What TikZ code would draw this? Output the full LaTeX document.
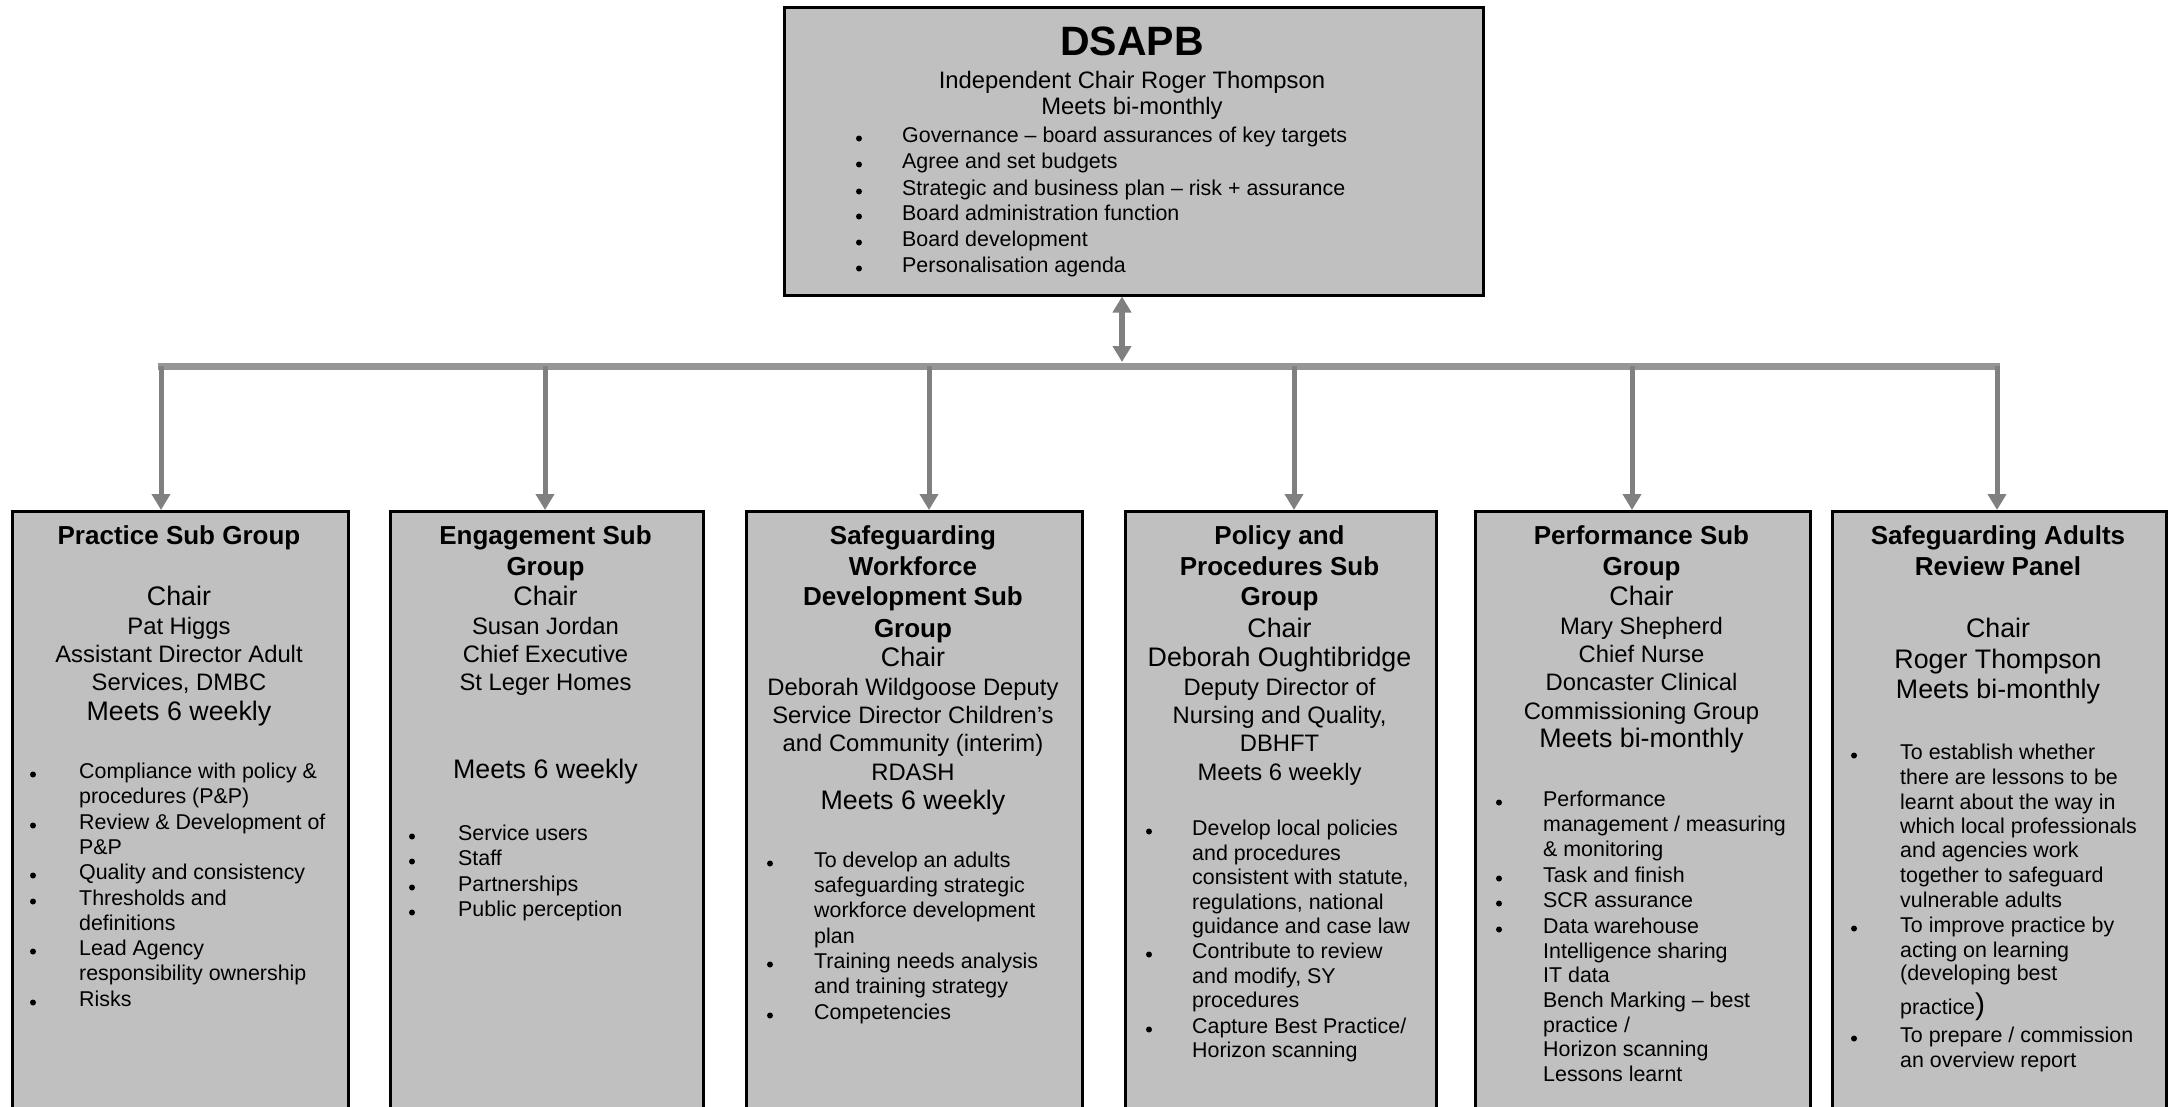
\documentclass[tikz,border=0pt]{standalone}
\usepackage{fontspec}
\setmainfont{Liberation Sans}
\usetikzlibrary{arrows.meta}
\definecolor{boxgray}{RGB}{192,192,192}
\definecolor{bargray}{RGB}{150,150,150}
\definecolor{arrgray}{RGB}{128,128,128}
\tikzset{
  boxs/.style={draw=black, line width=2.5pt, fill=boxgray, inner sep=0pt, anchor=north west},
  bigttl/.style={font=\fontsize{41}{48}\selectfont\bfseries, anchor=mid, inner sep=0pt, yshift=-12pt},
  ttl/.style={font=\fontsize{26}{30}\selectfont\bfseries, anchor=mid, inner sep=0pt, yshift=-5.5pt},
  nm/.style={font=\fontsize{23.8}{28}\selectfont, anchor=mid, inner sep=0pt, yshift=-5.5pt},
  mt/.style={font=\fontsize{26.8}{30}\selectfont, anchor=mid, inner sep=0pt, yshift=-5.5pt},
  bl/.style={font=\fontsize{21.4}{25}\selectfont, anchor=mid west, inner sep=0pt, yshift=-5.5pt},
  dot/.style={circle, fill=black, draw=none, inner sep=0pt, minimum size=6pt, yshift=-4.5pt},
  barline/.style={draw=bargray, line width=7pt},
  downarr/.style={draw=arrgray, line width=5pt, -{Triangle[width=18pt,length=16pt]}},
  dblarr/.style={draw=arrgray, line width=6pt, {Triangle[width=18pt,length=16pt]}-{Triangle[width=18pt,length=16pt]}, shorten <=1pt},
}
\begin{document}
\begin{tikzpicture}[x=1pt,y=-1pt]
\useasboundingbox (0,0) rectangle (2168,1106);
\clip (0,0) rectangle (2168,1106);

% boxes
\node[boxs, minimum width=699pt, minimum height=288pt] (top) at (783,6) {};
\node[boxs, minimum width=336pt, minimum height=640pt] (b1) at (11,510) {};
\node[boxs, minimum width=313pt, minimum height=640pt] (b2) at (389,510) {};
\node[boxs, minimum width=336pt, minimum height=640pt] (b3) at (745,510) {};
\node[boxs, minimum width=311pt, minimum height=640pt] (b4) at (1124,510) {};
\node[boxs, minimum width=335pt, minimum height=640pt] (b5) at (1474,510) {};
\node[boxs, minimum width=334pt, minimum height=640pt] (b6) at (1831,510) {};

% connectors
\coordinate (bl0) at (158,366.5);
\coordinate (br0) at (2000,366.5);
\draw[barline] (bl0) -- (br0);
\coordinate (j1) at (161,366);
\coordinate (j2) at (545,366);
\coordinate (j3) at (929,366);
\coordinate (j4) at (1294,366);
\coordinate (j5) at (1632,366);
\coordinate (j6) at (1997,366);
\draw[downarr] (j1) -- (j1 |- b1.north);
\draw[downarr] (j2) -- (j2 |- b2.north);
\draw[downarr] (j3) -- (j3 |- b3.north);
\draw[downarr] (j4) -- (j4 |- b4.north);
\draw[downarr] (j5) -- (j5 |- b5.north);
\draw[downarr] (j6) -- (j6 |- b6.north);
\coordinate (jc) at (1122,363);
\draw[dblarr] (jc) -- (jc |- top.south);

% DSAPB
\node[bigttl] (t0) at (1132,41) {DSAPB};
\node[nm] (t01) at (1132,80) {Independent Chair Roger Thompson};
\node[nm] (t02) at (1132,106) {Meets bi-monthly};
\node[dot] (d01) at (859,134) {}; \node[bl] (l01) at (902,134) {Governance -- board assurances of key targets};
\node[dot] (d02) at (859,160) {}; \node[bl] (l02) at (902,160) {Agree and set budgets};
\node[dot] (d03) at (859,187) {}; \node[bl] (l03) at (902,187) {Strategic and business plan -- risk + assurance};
\node[dot] (d04) at (859,212) {}; \node[bl] (l04) at (902,212) {Board administration function};
\node[dot] (d05) at (859,238) {}; \node[bl] (l05) at (902,238) {Board development};
\node[dot] (d06) at (859,264) {}; \node[bl] (l06) at (902,264) {Personalisation agenda};

% Box 1
\node[ttl] (t11) at (179,536) {Practice Sub Group};
\node[mt] (t12) at (179,597) {Chair};
\node[nm] (t13) at (179,626) {Pat Higgs};
\node[nm] (t14) at (179,654) {Assistant Director Adult};
\node[nm] (t15) at (179,682) {Services, DMBC};
\node[mt] (t16) at (179,712) {Meets 6 weekly};
\node[dot] (d11) at (33,770) {}; \node[bl] (l11) at (79,770) {Compliance with policy \&};
\node[bl] (l12) at (79,795) {procedures (P\&P)};
\node[dot] (d13) at (33,821) {}; \node[bl] (l13) at (79,821) {Review \& Development of};
\node[bl] (l14) at (79,846) {P\&P};
\node[dot] (d15) at (33,871) {}; \node[bl] (l15) at (79,871) {Quality and consistency};
\node[dot] (d16) at (33,897) {}; \node[bl] (l16) at (79,897) {Thresholds and};
\node[bl] (l17) at (79,922) {definitions};
\node[dot] (d18) at (33,947) {}; \node[bl] (l18) at (79,947) {Lead Agency};
\node[bl] (l19) at (79,972) {responsibility ownership};
\node[dot] (d110) at (33,998) {}; \node[bl] (l110) at (79,998) {Risks};

% Box 2
\node[ttl] (t21) at (545.5,536) {Engagement Sub};
\node[ttl] (t22) at (545.5,567) {Group};
\node[mt] (t23) at (545.5,597) {Chair};
\node[nm] (t24) at (545.5,626) {Susan Jordan};
\node[nm] (t25) at (545.5,654) {Chief Executive};
\node[nm] (t26) at (545.5,682) {St Leger Homes};
\node[mt] (t27) at (545.5,770) {Meets 6 weekly};
\node[dot] (d21) at (412,832) {}; \node[bl] (l21) at (458,832) {Service users};
\node[dot] (d22) at (412,857) {}; \node[bl] (l22) at (458,857) {Staff};
\node[dot] (d23) at (412,883) {}; \node[bl] (l23) at (458,883) {Partnerships};
\node[dot] (d24) at (412,908) {}; \node[bl] (l24) at (458,908) {Public perception};

% Box 3
\node[ttl] (t31) at (913,536) {Safeguarding};
\node[ttl] (t32) at (913,567) {Workforce};
\node[ttl] (t33) at (913,597) {Development Sub};
\node[ttl] (t34) at (913,629) {Group};
\node[mt] (t35) at (913,658) {Chair};
\node[nm] (t36) at (913,687) {Deborah Wildgoose Deputy};
\node[nm] (t37) at (913,715) {Service Director Children’s};
\node[nm] (t38) at (913,743) {and Community (interim)};
\node[nm] (t39) at (913,772) {RDASH};
\node[mt] (t310) at (913,801) {Meets 6 weekly};
\node[dot] (d31) at (770,859) {}; \node[bl] (l31) at (814,859) {To develop an adults};
\node[bl] (l32) at (814,884) {safeguarding strategic};
\node[bl] (l33) at (814,909) {workforce development};
\node[bl] (l34) at (814,935) {plan};
\node[dot] (d35) at (770,960) {}; \node[bl] (l35) at (814,960) {Training needs analysis};
\node[bl] (l36) at (814,985) {and training strategy};
\node[dot] (d37) at (770,1011) {}; \node[bl] (l37) at (814,1011) {Competencies};

% Box 4
\node[ttl] (t41) at (1279.5,536) {Policy and};
\node[ttl] (t42) at (1279.5,567) {Procedures Sub};
\node[ttl] (t43) at (1279.5,597) {Group};
\node[mt] (t44) at (1279.5,629) {Chair};
\node[mt] (t45) at (1279.5,658) {Deborah Oughtibridge};
\node[nm] (t46) at (1279.5,687) {Deputy Director of};
\node[nm] (t47) at (1279.5,715) {Nursing and Quality,};
\node[nm] (t48) at (1279.5,743) {DBHFT};
\node[nm] (t49) at (1279.5,772) {Meets 6 weekly};
\node[dot] (d41) at (1149,827) {}; \node[bl] (l41) at (1192,827) {Develop local policies};
\node[bl] (l42) at (1192,852) {and procedures};
\node[bl] (l43) at (1192,876) {consistent with statute,};
\node[bl] (l44) at (1192,901) {regulations, national};
\node[bl] (l45) at (1192,925) {guidance and case law};
\node[dot] (d46) at (1149,950) {}; \node[bl] (l46) at (1192,950) {Contribute to review};
\node[bl] (l47) at (1192,975) {and modify, SY};
\node[bl] (l48) at (1192,999) {procedures};
\node[dot] (d49) at (1149,1025) {}; \node[bl] (l49) at (1192,1025) {Capture Best Practice/};
\node[bl] (l410) at (1192,1049) {Horizon scanning};

% Box 5
\node[ttl] (t51) at (1641.5,536) {Performance Sub};
\node[ttl] (t52) at (1641.5,567) {Group};
\node[mt] (t53) at (1641.5,597) {Chair};
\node[nm] (t54) at (1641.5,626) {Mary Shepherd};
\node[nm] (t55) at (1641.5,654) {Chief Nurse};
\node[nm] (t56) at (1641.5,682) {Doncaster Clinical};
\node[nm] (t57) at (1641.5,711) {Commissioning Group};
\node[mt] (t58) at (1641.5,739) {Meets bi-monthly};
\node[dot] (d51) at (1499,798) {}; \node[bl] (l51) at (1543,798) {Performance};
\node[bl] (l52) at (1543,823) {management / measuring};
\node[bl] (l53) at (1543,848) {\& monitoring};
\node[dot] (d54) at (1499,874) {}; \node[bl] (l54) at (1543,874) {Task and finish};
\node[dot] (d55) at (1499,899) {}; \node[bl] (l55) at (1543,899) {SCR assurance};
\node[dot] (d56) at (1499,925) {}; \node[bl] (l56) at (1543,925) {Data warehouse};
\node[bl] (l57) at (1543,950) {Intelligence sharing};
\node[bl] (l58) at (1543,974) {IT data};
\node[bl] (l59) at (1543,999) {Bench Marking -- best};
\node[bl] (l510) at (1543,1024) {practice /};
\node[bl] (l511) at (1543,1048) {Horizon scanning};
\node[bl] (l512) at (1543,1073) {Lessons learnt};

% Box 6
\node[ttl] (t61) at (1998,536) {Safeguarding Adults};
\node[ttl] (t62) at (1998,567) {Review Panel};
\node[mt] (t63) at (1998,629) {Chair};
\node[mt] (t64) at (1998,660) {Roger Thompson};
\node[mt] (t65) at (1998,690) {Meets bi-monthly};
\node[dot] (d61) at (1854,751) {}; \node[bl] (l61) at (1900,751) {To establish whether};
\node[bl] (l62) at (1900,776) {there are lessons to be};
\node[bl] (l63) at (1900,801) {learnt about the way in};
\node[bl] (l64) at (1900,825) {which local professionals};
\node[bl] (l65) at (1900,849) {and agencies work};
\node[bl] (l66) at (1900,874) {together to safeguard};
\node[bl] (l67) at (1900,899) {vulnerable adults};
\node[dot] (d68) at (1854,924) {}; \node[bl] (l68) at (1900,924) {To improve practice by};
\node[bl] (l69) at (1900,949) {acting on learning};
\node[bl] (l610) at (1900,972) {(developing best};
\node[bl] (l611) at (1900,1006) {practice{\fontsize{30}{30}\selectfont)}};
\node[dot] (d612) at (1854,1034) {}; \node[bl] (l612) at (1900,1034) {To prepare / commission};
\node[bl] (l613) at (1900,1059) {an overview report};
\end{tikzpicture}
\end{document}
